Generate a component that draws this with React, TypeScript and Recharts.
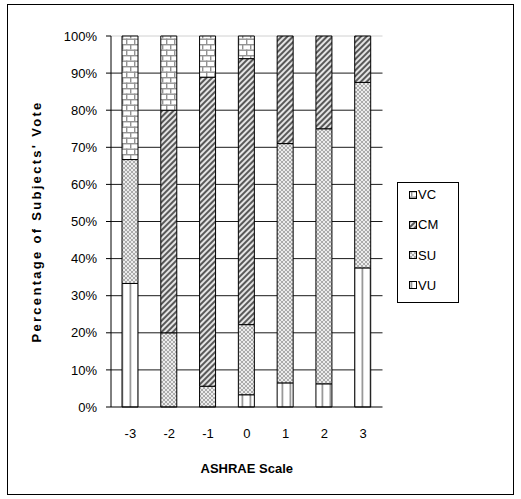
import React from 'react';
import { BarChart, Bar, XAxis, YAxis, CartesianGrid, Legend } from 'recharts';

const font = '"Liberation Sans", Arial, sans-serif';

// ASHRAE thermal sensation categories and vote shares (%) per comfort rating
const scale = ['-3', '-2', '-1', '0', '1', '2', '3'];
const vu = [33.3, 0, 0, 3.3, 6.5, 6.25, 37.5];
const su = [33.4, 20, 5.6, 18.9, 64.5, 68.75, 50];
const cm = [0, 60, 83.3, 71.7, 29, 25, 12.5];
const vc = [33.3, 20, 11.1, 6.1, 0, 0, 0];

const yTicks = [0, 10, 20, 30, 40, 50, 60, 70, 80, 90, 100];
const gridValues = [10, 20, 30, 40, 50, 60, 70, 80, 90];
const edgeTicks = [0, 1, 2, 3, 4, 5, 6, 7];

const series = [
  { key: 'VU', fill: 'url(#pat-vu)' },
  { key: 'SU', fill: 'url(#pat-su)' },
  { key: 'CM', fill: 'url(#pat-cm)' },
  { key: 'VC', fill: 'url(#pat-vc)' },
];

const data = scale.map((s, i) => ({
  scale: s,
  edge: i + 0.5,
  VU: vu[i],
  SU: su[i],
  CM: cm[i],
  VC: vc[i],
}));

const Patterns = () => (
  <svg width={0} height={0} style={{ position: 'absolute' }}>
    <defs>
      <pattern id="pat-vc" patternUnits="userSpaceOnUse" width={8} height={11}>
        <rect width={8} height={11} fill="#fff" />
        <rect x={0} y={0} width={8} height={1.4} fill="#939393" />
        <rect x={0} y={5.5} width={8} height={1.4} fill="#939393" />
        <rect x={2} y={0} width={1.4} height={5.5} fill="#939393" />
        <rect x={6} y={5.5} width={1.4} height={5.5} fill="#939393" />
      </pattern>
      <pattern id="pat-cm" patternUnits="userSpaceOnUse" width={4} height={4} patternTransform="rotate(45)">
        <rect width={4} height={4} fill="#e4e4e4" />
        <rect x={0} y={0} width={2} height={4} fill="#595959" />
      </pattern>
      <pattern id="pat-su" patternUnits="userSpaceOnUse" width={4} height={4}>
        <rect width={4} height={4} fill="#ececec" />
        <path d="M0,0 L4,4 M4,0 L0,4" stroke="#a4a4a4" strokeWidth={0.9} />
      </pattern>
      <pattern id="pat-vu" patternUnits="userSpaceOnUse" width={8} height={4}>
        <rect width={8} height={4} fill="#fff" />
        <rect x={1.5} y={0} width={1.8} height={4} fill="#999" />
      </pattern>
    </defs>
  </svg>
);

const LegendBox = () => (
  <div
    style={{
      width: 60,
      height: 119,
      border: '1px solid #000',
      background: '#fff',
      position: 'relative',
      fontFamily: font,
      fontSize: 13,
      color: '#000',
    }}
  >
    {[...series].reverse().map((s, i) => (
      <div
        key={s.key}
        style={{ position: 'absolute', left: 11, top: 3 + i * 30.3, height: 17, display: 'flex', alignItems: 'center' }}
      >
        <svg width={8} height={8}>
          <rect x={0.5} y={0.5} width={7} height={7} fill={s.fill} stroke="#000" />
        </svg>
        <span style={{ marginLeft: 1 }}>{s.key}</span>
      </div>
    ))}
  </div>
);

const YTitle = ({ viewBox }: any) => {
  const cx = viewBox.x + 36;
  const cy = viewBox.y + viewBox.height / 2;
  return (
    <text
      x={cx}
      y={cy}
      transform={`rotate(-90 ${cx} ${cy})`}
      textAnchor="middle"
      dominantBaseline="central"
      fontFamily={font}
      fontSize={13}
      fontWeight="bold"
      letterSpacing={2.3}
      fill="#000"
    >
      Percentage of Subjects' Vote
    </text>
  );
};

const XTitle = ({ viewBox }: any) => (
  <text
    x={viewBox.x + viewBox.width / 2}
    y={468}
    textAnchor="middle"
    dominantBaseline="central"
    fontFamily={font}
    fontSize={13}
    fontWeight="bold"
    fill="#000"
  >
    ASHRAE Scale
  </text>
);

export default function App() {
  return (
    <div style={{ position: 'absolute', left: 0, top: 0, width: 521, height: 499, background: '#fff' }}>
      <Patterns />
      <div
        style={{
          position: 'absolute',
          left: 7,
          top: 4,
          width: 507,
          height: 491,
          boxSizing: 'border-box',
          border: '1px solid #000',
        }}
      />
      <div style={{ position: 'absolute', left: 0, top: 0 }}>
        <BarChart width={521} height={499} data={data} margin={{ top: 36, right: 138.5, bottom: 0, left: 0 }}>
          <CartesianGrid vertical={false} horizontalValues={[100]} stroke="#d0d0d0" />
          <CartesianGrid vertical={false} horizontalValues={gridValues} stroke="#1a1a1a" />
          <XAxis
            xAxisId="edges"
            type="number"
            dataKey="edge"
            domain={[0, 7]}
            ticks={edgeTicks}
            height={0}
            tick={false}
            axisLine={false}
            tickSize={5}
            tickLine={{ stroke: '#000' }}
          />
          <XAxis
            dataKey="scale"
            height={92}
            tickLine={false}
            tickSize={0}
            tickMargin={22}
            axisLine={{ stroke: '#000' }}
            tick={{ fill: '#000', fontSize: 13, fontFamily: font }}
            label={<XTitle />}
          />
          <YAxis
            width={111}
            domain={[0, 100]}
            ticks={yTicks}
            tickFormatter={(v: number) => `${v}%`}
            tickSize={5}
            tickMargin={9}
            axisLine={{ stroke: '#000' }}
            tickLine={{ stroke: '#000' }}
            tick={{ fill: '#000', fontSize: 13, fontFamily: font }}
            label={<YTitle />}
          />
          <Legend
            layout="horizontal"
            verticalAlign="middle"
            align="center"
            content={<LegendBox />}
            wrapperStyle={{ left: 397, top: 182, width: 62, height: 121 }}
          />
          {series.map((s) => (
            <Bar
              key={s.key}
              dataKey={s.key}
              stackId="votes"
              fill={s.fill}
              stroke="#000"
              strokeWidth={1}
              barSize={16}
              isAnimationActive={false}
            />
          ))}
        </BarChart>
      </div>
    </div>
  );
}
